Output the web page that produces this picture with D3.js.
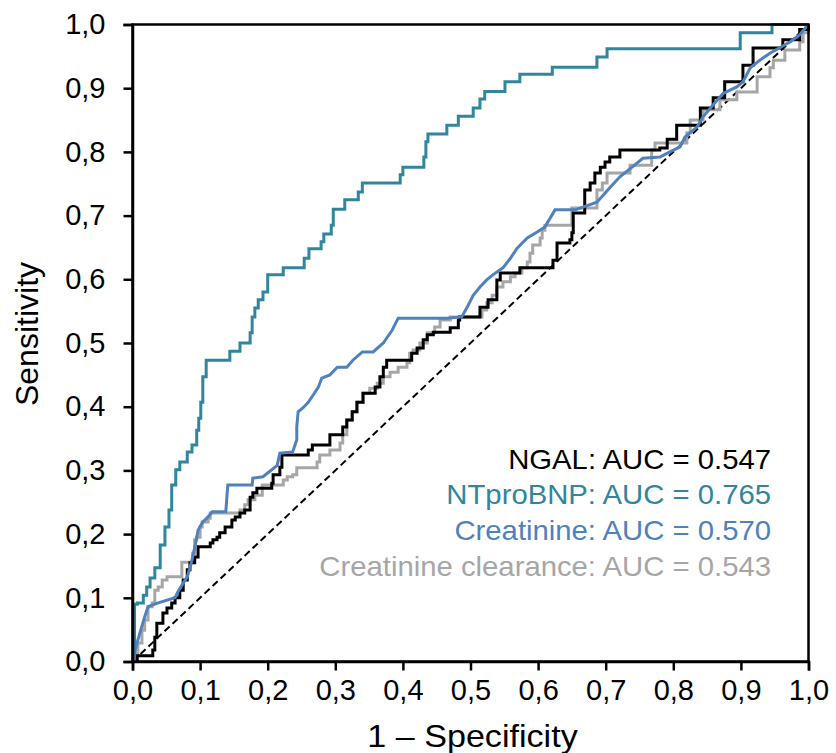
<!DOCTYPE html>
<html>
<head>
<meta charset="utf-8">
<script src="https://cdn.jsdelivr.net/npm/d3@7"></script>
<style>
  body { margin: 0; background: #fff; }
  text { font-family: "Liberation Sans", Arial, sans-serif; }
</style>
</head>
<body>
<div id="chart"></div>
<script>
var width = 836;
var height = 753;
var margin = {left: 132.5, right: 27.5, top: 24.5, bottom: 91.5};

// tick values and labels
let ticks = d3.range(0, 11).map(d => d / 10);
let tickLabel = d => d.toFixed(1).replace('.', ',');

// ROC curves, [1 - specificity, sensitivity]
let ngal = [[0,0],[0.007,0.009],[0.030,0.018],[0.033,0.038],[0.036,0.060],[0.045,0.076],[0.051,0.084],
  [0.058,0.092],[0.063,0.100],[0.070,0.112],[0.075,0.128],[0.081,0.144],[0.085,0.155],[0.092,0.164],
  [0.097,0.180],[0.115,0.186],[0.119,0.191],[0.125,0.195],[0.129,0.202],[0.137,0.211],[0.147,0.222],
  [0.152,0.227],[0.159,0.233],[0.166,0.238],[0.174,0.258],[0.178,0.265],[0.184,0.272],[0.206,0.280],
  [0.208,0.293],[0.218,0.305],[0.221,0.324],[0.260,0.332],[0.266,0.340],[0.292,0.356],[0.311,0.368],
  [0.317,0.379],[0.325,0.392],[0.332,0.407],[0.341,0.421],[0.359,0.431],[0.366,0.447],[0.371,0.462],
  [0.376,0.473],[0.410,0.473],[0.413,0.484],[0.421,0.492],[0.430,0.505],[0.436,0.513],[0.445,0.517],
  [0.470,0.524],[0.482,0.536],[0.484,0.541],[0.514,0.556],[0.526,0.568],[0.539,0.599],[0.544,0.610],
  [0.573,0.618],[0.622,0.630],[0.628,0.657],[0.647,0.662],[0.650,0.673],[0.652,0.704],[0.669,0.740],
  [0.677,0.751],[0.684,0.767],[0.692,0.776],[0.699,0.784],[0.706,0.792],[0.721,0.803],[0.780,0.806],
  [0.791,0.820],[0.805,0.842],[0.840,0.869],[0.859,0.885],[0.876,0.910],[0.903,0.936],[0.918,0.963],
  [0.962,0.976],[0.987,0.992],[1,1]];

let ntprobnp = [[0,0],[0.003,0.090],[0.007,0.092],[0.016,0.104],[0.021,0.117],[0.026,0.131],[0.033,0.147],
  [0.041,0.183],[0.048,0.211],[0.054,0.238],[0.058,0.277],[0.064,0.301],[0.070,0.313],[0.081,0.329],
  [0.088,0.340],[0.095,0.363],[0.098,0.382],[0.101,0.407],[0.104,0.447],[0.109,0.473],[0.144,0.487],
  [0.159,0.500],[0.174,0.516],[0.177,0.541],[0.181,0.555],[0.186,0.568],[0.193,0.580],[0.200,0.607],
  [0.223,0.618],[0.254,0.633],[0.261,0.648],[0.279,0.659],[0.283,0.671],[0.294,0.685],[0.297,0.710],
  [0.314,0.725],[0.334,0.737],[0.340,0.751],[0.396,0.764],[0.400,0.776],[0.431,0.792],[0.434,0.816],
  [0.437,0.828],[0.465,0.842],[0.482,0.856],[0.504,0.869],[0.514,0.883],[0.521,0.895],[0.551,0.910],
  [0.573,0.922],[0.621,0.933],[0.687,0.949],[0.702,0.962],[0.899,0.987],[0.946,1],[1,1]];

let creatinine = [[0,0],[0.004,0.018],[0.008,0.034],[0.018,0.070],[0.023,0.086],[0.038,0.092],[0.063,0.100],
  [0.067,0.109],[0.075,0.123],[0.081,0.133],[0.085,0.147],[0.089,0.164],[0.095,0.194],[0.097,0.206],
  [0.104,0.219],[0.110,0.225],[0.118,0.235],[0.138,0.235],[0.141,0.277],[0.177,0.277],[0.178,0.288],
  [0.193,0.290],[0.214,0.308],[0.218,0.327],[0.237,0.329],[0.243,0.348],[0.243,0.368],[0.245,0.392],
  [0.252,0.398],[0.260,0.407],[0.267,0.418],[0.275,0.431],[0.280,0.445],[0.292,0.450],[0.303,0.462],
  [0.317,0.462],[0.326,0.473],[0.340,0.486],[0.356,0.486],[0.371,0.500],[0.384,0.520],[0.393,0.539],
  [0.465,0.539],[0.487,0.541],[0.495,0.556],[0.504,0.575],[0.514,0.588],[0.524,0.599],[0.533,0.607],
  [0.548,0.618],[0.559,0.633],[0.569,0.649],[0.584,0.665],[0.598,0.674],[0.610,0.682],[0.625,0.709],
  [0.655,0.709],[0.687,0.721],[0.707,0.745],[0.721,0.761],[0.739,0.776],[0.755,0.790],[0.780,0.792],
  [0.795,0.800],[0.810,0.808],[0.817,0.823],[0.835,0.839],[0.844,0.855],[0.859,0.874],[0.874,0.892],
  [0.894,0.902],[0.903,0.910],[0.914,0.932],[0.928,0.944],[0.943,0.955],[0.973,0.973],[0.987,0.984],[1,1]];

let clearance = [[0,0],[0.004,0.013],[0.008,0.029],[0.014,0.049],[0.018,0.065],[0.023,0.086],[0.029,0.092],
  [0.033,0.112],[0.038,0.117],[0.044,0.128],[0.051,0.133],[0.073,0.156],[0.089,0.170],[0.092,0.191],
  [0.095,0.195],[0.100,0.211],[0.103,0.219],[0.112,0.225],[0.115,0.233],[0.159,0.238],[0.166,0.246],
  [0.171,0.254],[0.181,0.261],[0.192,0.277],[0.223,0.285],[0.229,0.290],[0.237,0.293],[0.243,0.304],
  [0.273,0.313],[0.277,0.324],[0.292,0.332],[0.307,0.343],[0.311,0.356],[0.317,0.379],[0.325,0.392],
  [0.332,0.407],[0.341,0.421],[0.351,0.429],[0.362,0.437],[0.371,0.447],[0.381,0.454],[0.393,0.462],
  [0.406,0.469],[0.410,0.484],[0.415,0.489],[0.425,0.500],[0.436,0.516],[0.447,0.525],[0.455,0.536],
  [0.470,0.541],[0.517,0.552],[0.524,0.563],[0.532,0.575],[0.539,0.588],[0.548,0.596],[0.559,0.604],
  [0.566,0.610],[0.576,0.618],[0.584,0.627],[0.588,0.641],[0.592,0.654],[0.603,0.665],[0.606,0.677],
  [0.610,0.685],[0.650,0.712],[0.687,0.740],[0.695,0.751],[0.702,0.767],[0.736,0.779],[0.768,0.803],
  [0.773,0.814],[0.820,0.830],[0.825,0.850],[0.844,0.866],[0.869,0.882],[0.894,0.894],[0.924,0.918],
  [0.943,0.932],[0.948,0.944],[0.965,0.960],[0.987,0.973],[0.992,0.987],[1,1]];

let seriesNames = ['NGAL', 'NTproBNP', 'Creatinine', 'Creatinine clearance'];
let aucValues = ['0.547', '0.765', '0.570', '0.543'];
let seriesColors = ['#000000', '#31859c', '#4f81bd', '#a6a6a6'];

var chartW = width - margin.left - margin.right;
var chartH = height - margin.top - margin.bottom;

let scaleX = d3.scaleLinear().domain([0, 1]).range([0, chartW]);
let scaleY = d3.scaleLinear().domain([0, 1]).range([chartH, 0]);

let svg = d3.select('#chart')
            .append('svg')
            .attr('width', width)
            .attr('height', height);

let chart = svg.append('g')
            .attr('transform', 'translate(' + margin.left + ',' + margin.top + ')');

// reference diagonal
chart.append('line')
    .attr('x1', scaleX(0)).attr('y1', scaleY(0))
    .attr('x2', scaleX(1)).attr('y2', scaleY(1))
    .attr('stroke', '#000')
    .attr('stroke-width', 2)
    .attr('stroke-dasharray', '7,4');

let stepLine = d3.line()
    .x(d => scaleX(d[0]))
    .y(d => scaleY(d[1]))
    .curve(d3.curveStepAfter);

let plainLine = d3.line()
    .x(d => scaleX(d[0]))
    .y(d => scaleY(d[1]));

// draw order: grey, black, blue, teal
let curves = [
  {data: clearance, color: seriesColors[3], gen: stepLine},
  {data: ngal, color: seriesColors[0], gen: stepLine},
  {data: creatinine, color: seriesColors[2], gen: plainLine},
  {data: ntprobnp, color: seriesColors[1], gen: stepLine}
];

chart.selectAll('.curve')
    .data(curves)
    .enter()
    .append('path')
    .classed('curve', true)
    .attr('d', d => d.gen(d.data))
    .attr('fill', 'none')
    .attr('stroke', d => d.color)
    .attr('stroke-width', 3)
    .attr('stroke-linejoin', 'miter');

// frame
chart.append('rect')
    .attr('x', 0).attr('y', 0)
    .attr('width', chartW).attr('height', chartH)
    .attr('fill', 'none')
    .attr('stroke', '#000')
    .attr('stroke-width', 2.5);

let xAxis = chart.append('g')
    .attr('transform', 'translate(0,' + chartH + ')')
    .call(d3.axisBottom(scaleX).tickValues(ticks).tickFormat(tickLabel).tickSize(9).tickPadding(9));

let yAxis = chart.append('g')
    .call(d3.axisLeft(scaleY).tickValues(ticks).tickFormat(tickLabel).tickSize(9).tickPadding(18));

[xAxis, yAxis].forEach(ax => {
  ax.select('.domain').attr('stroke-width', 2.5);
  ax.selectAll('.tick line').attr('stroke-width', 2.5);
  ax.selectAll('.tick text')
    .attr('fill', '#000')
    .style('font-size', '29px')
    .style('font-family', '"Liberation Sans", Arial, sans-serif');
});

// axis titles
svg.append('text')
    .attr('transform', 'translate(' + (margin.left + chartW / 2 + 2) + ',747) scale(1.066,1)')
    .attr('text-anchor', 'middle')
    .style('font-size', '32px')
    .text('1 \u2013 Specificity');

svg.append('text')
    .attr('transform', 'translate(38,334) rotate(-90)')
    .attr('text-anchor', 'middle')
    .style('font-size', '32px')
    .text('Sensitivity');

// AUC legend
let baselines = [469, 504, 540, 576];
svg.selectAll('.auc')
    .data(seriesNames)
    .enter()
    .append('text')
    .classed('auc', true)
    .attr('transform', (d, i) => 'translate(771,' + baselines[i] + ') scale(1.085,1)')
    .attr('text-anchor', 'end')
    .attr('fill', (d, i) => seriesColors[i])
    .style('font-size', '27px')
    .text((d, i) => d + ': AUC = ' + aucValues[i]);
</script>
</body>
</html>
